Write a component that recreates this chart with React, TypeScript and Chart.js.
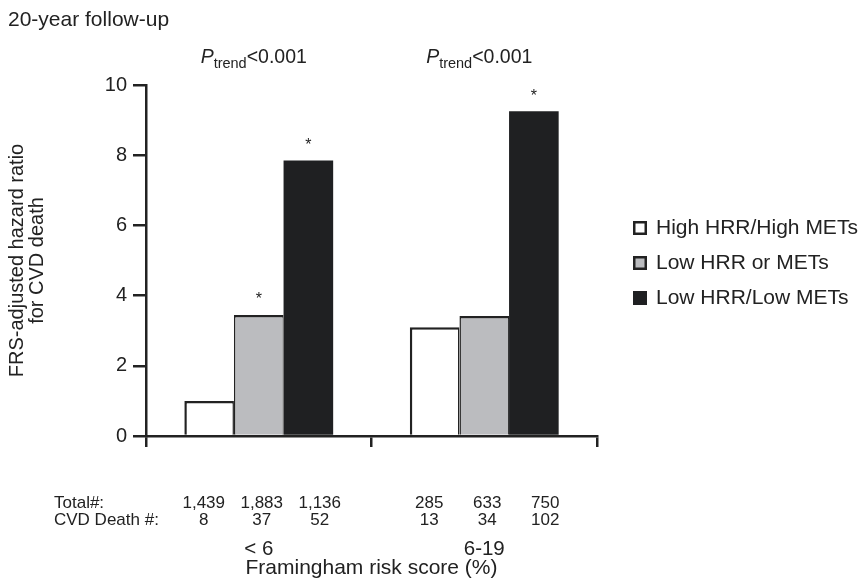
import { useEffect, useRef } from "react";
import { Chart, registerables } from "chart.js";

Chart.register(...registerables);

// ---------- data ----------
const titleText = "20-year follow-up";
const categories = ["< 6", "6-19"];
const seriesNames = ["High HRR/High METs", "Low HRR or METs", "Low HRR/Low METs"];
const highHRRHighMETs = [1.0, 3.1];
const lowHRRorMETs = [3.45, 3.42];
const lowHRRLowMETs = [7.85, 9.25];
const sigHighHigh = [false, false];
const sigLowEither = [true, false];
const sigLowLow = [true, true];
const pTrend = ["<0.001", "<0.001"];
const totalHighHigh = [1439, 285];
const totalLowEither = [1883, 633];
const totalLowLow = [1136, 750];
const deathHighHigh = [8, 13];
const deathLowEither = [37, 34];
const deathLowLow = [52, 102];
const yTicks = [0, 2, 4, 6, 8, 10];
const yTitle = ["FRS-adjusted hazard ratio", "for CVD death"];
const xTitle = "Framingham risk score (%)";
const rowLabels = ["Total#:", "CVD Death #:"];

// ---------- styles ----------
const FONT = '"Liberation Sans", Arial, Helvetica, sans-serif';
const INK = "#222222";
const WHITE = "#ffffff";
const GREY = "#bbbcbf";
const BLACK = "#1f2022";

const annotations = {
  id: "annotations",
  afterDraw(chart: any) {
    const { ctx } = chart;
    const xs = chart.scales.x;
    ctx.save();
    ctx.fillStyle = INK;

    // title
    ctx.font = `21px ${FONT}`;
    ctx.textAlign = "left";
    ctx.textBaseline = "middle";
    ctx.fillText(titleText, 8, 20);

    // P trend
    categories.forEach((_c, i) => {
      const cx = xs.getPixelForValue(i) - 5;
      const parts = [
        { t: "P", f: `italic 19.5px ${FONT}`, dy: 0 },
        { t: "trend", f: `14.5px ${FONT}`, dy: 5 },
        { t: pTrend[i], f: `19.5px ${FONT}`, dy: 0 },
      ];
      let w = 0;
      parts.forEach((p) => {
        ctx.font = p.f;
        w += ctx.measureText(p.t).width;
      });
      let x = cx - w / 2;
      ctx.textAlign = "left";
      ctx.textBaseline = "alphabetic";
      parts.forEach((p) => {
        ctx.font = p.f;
        ctx.fillText(p.t, x, 63 + p.dy);
        x += ctx.measureText(p.t).width;
      });
    });

    // asterisks
    const sigs = [sigHighHigh, sigLowEither, sigLowLow];
    ctx.font = `16px ${FONT}`;
    ctx.textAlign = "center";
    ctx.textBaseline = "middle";
    sigs.forEach((s, d) => {
      const meta = chart.getDatasetMeta(d);
      s.forEach((flag, i) => {
        if (!flag) return;
        const el = meta.data[i];
        ctx.fillText("*", el.x, el.y - 15);
      });
    });

    // table below axis
    const totals = [totalHighHigh, totalLowEither, totalLowLow];
    const deaths = [deathHighHigh, deathLowEither, deathLowLow];
    const rowY = [503, 520];
    ctx.font = `17px ${FONT}`;
    ctx.textAlign = "left";
    ctx.fillText(rowLabels[0], 54, rowY[0]);
    ctx.fillText(rowLabels[1], 54, rowY[1]);
    ctx.textAlign = "center";
    categories.forEach((_c, i) => {
      const cx = xs.getPixelForValue(i);
      for (let d = 0; d < 3; d++) {
        const x = cx + (d - 1) * 58 + 3;
        ctx.fillText(totals[d][i].toLocaleString("en-US"), x, rowY[0]);
        ctx.fillText(String(deaths[d][i]), x, rowY[1]);
      }
    });

    // legend
    const fills = [WHITE, GREY, BLACK];
    const legY = [228, 263, 298];
    seriesNames.forEach((name, d) => {
      const y = legY[d];
      ctx.fillStyle = fills[d];
      ctx.fillRect(633, y - 7, 14, 14);
      if (d < 2) {
        ctx.strokeStyle = INK;
        ctx.lineWidth = 2.5;
        ctx.strokeRect(634.25, y - 5.75, 11.5, 11.5);
      }
      ctx.fillStyle = INK;
      ctx.font = `21px ${FONT}`;
      ctx.textAlign = "left";
      ctx.textBaseline = "middle";
      ctx.fillText(name, 656, y);
    });

    ctx.restore();
  },
};

export default function App() {
  const ref = useRef<HTMLCanvasElement | null>(null);

  useEffect(() => {
    const canvas = ref.current;
    if (!canvas) return;
    Chart.defaults.font.family = FONT;
    Chart.defaults.color = INK;
    const chart = new Chart(canvas, {
      type: "bar",
      data: {
        labels: categories,
        datasets: [
          {
            label: seriesNames[0],
            data: highHRRHighMETs,
            backgroundColor: WHITE,
            borderColor: INK,
            borderWidth: { left: 2.5, top: 2.5, right: 1.5, bottom: 0 },
            borderSkipped: false,
          },
          {
            label: seriesNames[1],
            data: lowHRRorMETs,
            backgroundColor: GREY,
            borderColor: INK,
            borderWidth: { left: 1.5, top: 2.5, right: 1, bottom: 0 },
            borderSkipped: false,
          },
          {
            label: seriesNames[2],
            data: lowHRRLowMETs,
            backgroundColor: BLACK,
            borderColor: BLACK,
            borderWidth: 0,
          },
        ],
      },
      options: {
        responsive: false,
        animation: false,
        devicePixelRatio: 1,
        layout: { padding: { top: 85, right: 267, bottom: 0, left: 0 } },
        datasets: { bar: { categoryPercentage: 0.66, barPercentage: 1.0 } },
        plugins: { legend: { display: false }, tooltip: { enabled: false } },
        scales: {
          x: {
            offset: true,
            grid: {
              offset: true,
              drawOnChartArea: false,
              drawTicks: true,
              tickLength: 11,
              color: INK,
              lineWidth: 2.5,
            },
            border: { display: true, color: INK, width: 2.5 },
            ticks: { padding: 90, color: INK, font: { size: 20.5 }, maxRotation: 0 },
            title: {
              display: true,
              text: xTitle,
              color: INK,
              font: { size: 21, lineHeight: 1.2 },
              padding: { top: 0, bottom: 5 },
            },
            afterFit: (s: any) => {
              s.height = 150;
            },
          },
          y: {
            min: 0,
            max: 10,
            afterBuildTicks: (s: any) => {
              s.ticks = yTicks.map((v) => ({ value: v }));
            },
            ticks: { padding: 6, color: INK, font: { size: 20 } },
            grid: {
              drawOnChartArea: false,
              drawTicks: true,
              tickLength: 13,
              color: INK,
              lineWidth: 2.5,
            },
            border: { display: true, color: INK, width: 2.5 },
            title: {
              display: true,
              text: yTitle,
              color: INK,
              font: { size: 20, lineHeight: 1.0 },
              padding: { top: 7, bottom: 0 },
            },
            afterFit: (s: any) => {
              s.width = 146;
            },
          },
        },
      },
      plugins: [annotations],
    } as any);
    return () => chart.destroy();
  }, []);

  return (
    <div style={{ position: "absolute", left: 0, top: 0, width: 864, height: 586, background: "#fff" }}>
      <canvas ref={ref} width={864} height={586} style={{ display: "block", width: 864, height: 586 }} />
    </div>
  );
}
